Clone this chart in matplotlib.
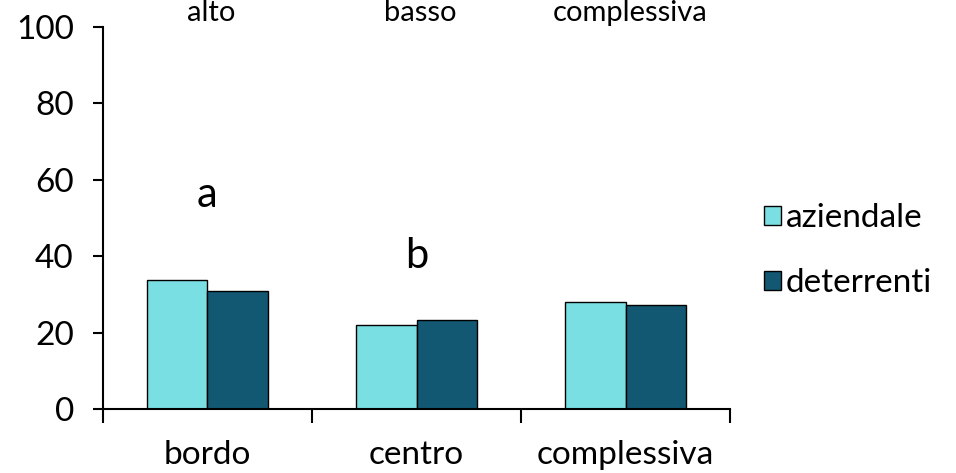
import numpy as np
import matplotlib.pyplot as plt

categorie = ["bordo", "centro", "complessiva"]
aziendale = [33.8, 22.0, 28.0]
deterrenti = [30.9, 23.3, 27.2]
titoli_alto = ["alto", "basso", "complessiva"]
lettere = ["a", "b"]
lettere_y = [56, 40]

plt.rcParams['font.family'] = ['Lato', 'DejaVu Sans']

fig = plt.figure(figsize=(9.56, 4.73), dpi=100)
ax = fig.add_axes([0.1077, 0.135, 0.656, 0.808])

x = np.arange(len(categorie))
w = 0.29
ax.bar(x - w/2, aziendale, w, color="#7ADFE3", edgecolor="black", linewidth=1, label="aziendale")
ax.bar(x + w/2, deterrenti, w, color="#125873", edgecolor="black", linewidth=1, label="deterrenti")

ax.set_xlim(-0.5, 2.5)
ax.set_ylim(0, 100)
ax.set_yticks([0, 20, 40, 60, 80, 100])
ax.set_xticks(x)
ax.set_xticklabels(categorie)
ax.set_xticks([-0.5, 0.5, 1.5, 2.5], minor=True)
ax.tick_params(axis='x', which='major', length=0, pad=22, labelsize=24)
ax.tick_params(axis='x', which='minor', length=10, width=1.5, direction='out')
ax.tick_params(axis='y', length=7, width=1.5, labelsize=24, pad=14)

for s in ['top', 'right']:
    ax.spines[s].set_visible(False)
ax.spines['left'].set_linewidth(1.5)
ax.spines['bottom'].set_linewidth(1.5)

for i, t in enumerate(lettere):
    ax.text(x[i], lettere_y[i], t, ha='center', va='center', fontsize=30)

# titoli sopra il grafico, attaccati al bordo alto della figura
trans = ax.get_xaxis_transform()
for i, t in enumerate(titoli_alto):
    ax.text(x[i] + 0.02, 1.0 + 27 / 382, t, transform=trans,
            ha='center', va='top', fontsize=21, clip_on=False)

ax.legend(loc='center left', bbox_to_anchor=(0.768, 0.47), bbox_transform=fig.transFigure,
          frameon=False, fontsize=24, handlelength=0.5, handleheight=0.5,
          handletextpad=0.15, labelspacing=1.05)

fig.savefig("out.png", dpi=100)
